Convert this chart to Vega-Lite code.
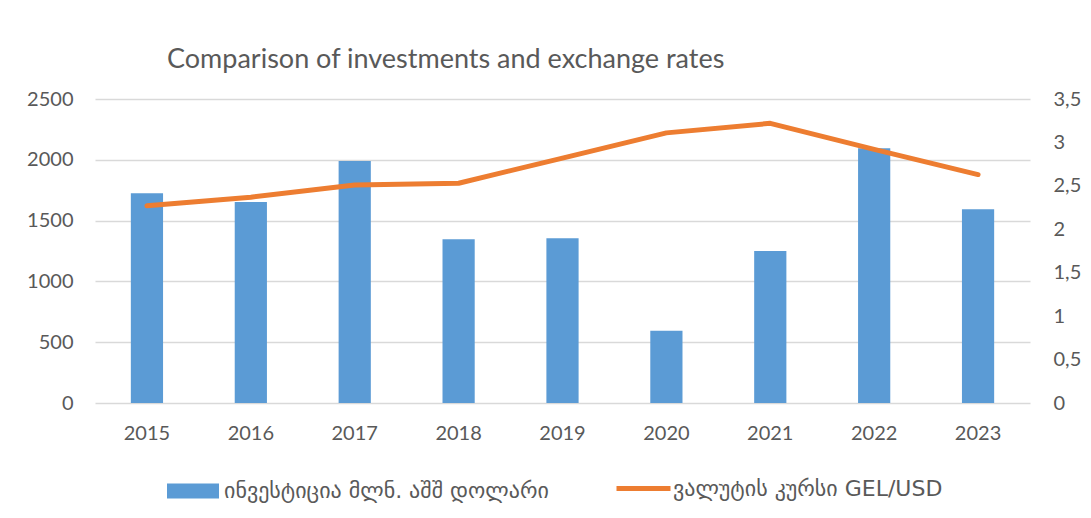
{
  "$schema": "https://vega.github.io/schema/vega-lite/v6.json",
  "autosize": "none",
  "width": 935,
  "height": 304,
  "padding": {"left": 95, "top": 99, "right": 61, "bottom": 115},
  "background": "white",
  "config": {
    "font": "Lato",
    "view": {"stroke": null},
    "axis": {"labelFont": "Lato", "labelColor": "#595959", "labelFontSize": 20, "ticks": false, "domain": false, "gridColor": "#d9d9d9", "gridWidth": 1.5, "title": null},
    "legend": {"labelFont": "DejaVu Sans", "labelFontSize": 22, "labelColor": "#595959", "padding": 0, "labelLimit": 0}
  },
  "title": {"text": "Comparison of investments and exchange rates", "anchor": "start", "frame": "group", "dx": 72, "offset": 15, "fontSize": 27, "font": "Lato", "fontWeight": "normal", "color": "#595959"},
  "data": {"values": [
    {"year": "2015", "invest": 1725, "rate": 2.27},
    {"year": "2016", "invest": 1653, "rate": 2.37},
    {"year": "2017", "invest": 1990, "rate": 2.51},
    {"year": "2018", "invest": 1346, "rate": 2.53},
    {"year": "2019", "invest": 1354, "rate": 2.82},
    {"year": "2020", "invest": 595, "rate": 3.11},
    {"year": "2021", "invest": 1250, "rate": 3.22},
    {"year": "2022", "invest": 2094, "rate": 2.92},
    {"year": "2023", "invest": 1593, "rate": 2.63}
  ]},
  "encoding": {
    "x": {"field": "year", "type": "ordinal", "scale": {"paddingInner": 0.69, "paddingOuter": 0.345}, "axis": {"labelAngle": 0, "labelPadding": 20, "grid": false}}
  },
  "layer": [
    {
      "mark": {"type": "bar", "color": "#5B9BD5"},
      "encoding": {
        "y": {"field": "invest", "type": "quantitative", "scale": {"domain": [0, 2500]}, "axis": {"values": [0, 500, 1000, 1500, 2000, 2500], "format": "d", "labelPadding": 22, "grid": true}},
        "fill": {"datum": "ინვესტიცია მლნ. აშშ დოლარი", "scale": {"range": ["#5B9BD5"]}, "legend": {"orient": "none", "legendX": 72, "legendY": 366, "symbolType": "M-1,-0.29L1,-0.29L1,0.29L-1,0.29Z", "symbolSize": 2704, "symbolStrokeWidth": 0, "symbolOpacity": 1, "labelOffset": 5, "title": null}}
      }
    },
    {
      "mark": {"type": "line", "color": "#ED7D31", "strokeWidth": 5, "strokeCap": "round", "strokeJoin": "round"},
      "encoding": {
        "y": {"field": "rate", "type": "quantitative", "scale": {"domain": [0, 3.5]}, "axis": {"orient": "right", "values": [0, 0.5, 1, 1.5, 2, 2.5, 3, 3.5], "labelExpr": "replace(toString(datum.value), '.', ',')", "labelPadding": 23, "grid": false}},
        "stroke": {"datum": "ვალუტის კურსი GEL/USD", "scale": {"range": ["#ED7D31"]}, "legend": {"orient": "none", "legendX": 519, "legendY": 360, "symbolType": "stroke", "symbolSize": 2916, "symbolStrokeWidth": 5, "labelOffset": 0, "title": null}}
      }
    }
  ],
  "resolve": {"scale": {"y": "independent"}}
}
